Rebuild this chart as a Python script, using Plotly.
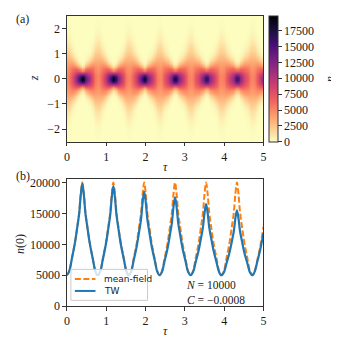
import numpy as np
import plotly.graph_objects as go

W, H = 339, 339

# ---- data ----
tau = [0.0,
       0.06, 0.12, 0.20, 0.26, 0.31, 0.35, 0.39, 0.43, 0.47, 0.52, 0.58, 0.66, 0.72,
       0.78,
       0.85, 0.91, 0.99, 1.05, 1.10, 1.14, 1.18, 1.22, 1.26, 1.31, 1.37, 1.45, 1.51,
       1.57,
       1.635, 1.695, 1.775, 1.835, 1.885, 1.925, 1.965, 2.005, 2.045, 2.095, 2.155, 2.235, 2.295,
       2.36,
       2.42, 2.48, 2.56, 2.62, 2.67, 2.71, 2.75, 2.79, 2.83, 2.88, 2.94, 3.02, 3.08,
       3.145,
       3.21, 3.27, 3.35, 3.41, 3.46, 3.50, 3.54, 3.58, 3.62, 3.67, 3.73, 3.81, 3.87,
       3.93,
       3.995, 4.055, 4.135, 4.195, 4.245, 4.285, 4.325, 4.365, 4.405, 4.455, 4.515, 4.595, 4.655,
       4.72,
       4.78, 4.84, 4.92, 5.00]

mean_field = [5000,
              5700, 7600, 10200, 12800, 15100, 18100, 20000, 18100, 15100, 12800, 10200, 7600, 5700,
              5000,
              5700, 7600, 10200, 12800, 15100, 18100, 20000, 18100, 15100, 12800, 10200, 7600, 5700,
              5000,
              5700, 7600, 10200, 12800, 15100, 18100, 20000, 18100, 15100, 12800, 10200, 7600, 5700,
              5000,
              5700, 7600, 10200, 12800, 15100, 18100, 20000, 18100, 15100, 12800, 10200, 7600, 5700,
              5000,
              5700, 7600, 10200, 12800, 15100, 18100, 20000, 18100, 15100, 12800, 10200, 7600, 5700,
              5000,
              5700, 7600, 10200, 12800, 15100, 18100, 20000, 18100, 15100, 12800, 10200, 7600, 5700,
              5000,
              5700, 7300, 9700, 12800]

tw = [5000,
      5700, 7550, 10150, 12700, 14950, 17900, 19800, 17900, 14950, 12700, 10150, 7550, 5700,
      5000,
      5670, 7500, 10000, 12500, 14700, 17600, 19400, 17600, 14700, 12500, 10000, 7500, 5670,
      5000,
      5630, 7340, 9680, 12020, 14090, 16790, 18500, 16790, 14090, 12020, 9680, 7340, 5630,
      5000,
      5590, 7180, 9370, 11550, 13480, 16000, 17600, 16000, 13480, 11550, 9370, 7180, 5590,
      5000,
      5540, 6990, 8990, 10980, 12740, 15040, 16500, 15040, 12740, 10980, 8990, 6990, 5540,
      5000,
      5490, 6820, 8640, 10460, 12070, 14170, 15500, 14170, 12070, 10460, 8640, 6820, 5490,
      5000,
      5650, 7100, 9200, 11800]

series_names = ["mean-field", "TW"]
N_atoms = 10000
C_value = "−0.0008"
x_ticks = [0, 1, 2, 3, 4, 5]
z_ticks = [-2, -1, 0, 1, 2]
n0_ticks = [0, 5000, 10000, 15000, 20000]
cb_ticks = [0, 2500, 5000, 7500, 10000, 12500, 15000, 17500]

# density field n(z, tau): Gaussian profile normalised to N atoms, centre value n(0) (TW)
z = np.linspace(-2.5, 2.5, 121)
n0 = np.array(tw, dtype=float)
dens = n0[None, :] * np.exp(-np.pi * (z[:, None] * n0[None, :] / N_atoms) ** 2)

SERIF = "Liberation Serif"
SANS = "DejaVu Sans"
AX = "#333333"
TXT = "#1a1a1a"
FS = 12
ORANGE = "#ff7f0e"
BLUE = "#1f77b4"
DASH = "6px,2.5px"

fig = go.Figure()
fig.add_trace(go.Heatmap(
    x=tau, y=z, z=dens, colorscale="magma", reversescale=True, zmin=0,
    zsmooth="best", xaxis="x", yaxis="y", showscale=True,
    colorbar=dict(
        x=263 / W, xanchor="left", y=1 - 4 / H, yanchor="top",
        len=130 / H, lenmode="fraction", thickness=9, thicknessmode="pixels",
        xpad=0, ypad=0, outlinewidth=1, outlinecolor=AX,
        tickvals=cb_ticks, ticktext=[str(v) for v in cb_ticks],
        ticks="outside", ticklen=3.5, tickwidth=1, tickcolor=AX,
        tickfont=dict(family=SERIF, size=FS, color=TXT)),
    hoverinfo="skip"))

fig.add_trace(go.Scatter(
    x=tau, y=mean_field, mode="lines", name=series_names[0],
    line=dict(color=ORANGE, width=2, dash=DASH, shape="spline", smoothing=1),
    xaxis="x2", yaxis="y2", showlegend=False))
fig.add_trace(go.Scatter(
    x=tau, y=tw, mode="lines", name=series_names[1],
    line=dict(color=BLUE, width=2.2, shape="spline", smoothing=1),
    xaxis="x2", yaxis="y2", showlegend=False))

axcommon = dict(showline=True, mirror=True, linecolor=AX, linewidth=1,
                ticks="outside", ticklen=3.5, tickwidth=1, tickcolor=AX,
                showgrid=False, zeroline=False,
                tickfont=dict(family=SERIF, size=FS, color=TXT))

xd = [57 / W, 257 / W]
fig.update_layout(
    width=W, height=H, autosize=False,
    margin=dict(l=0, r=0, t=0, b=0),
    paper_bgcolor="white", plot_bgcolor="white",
    showlegend=False,
    xaxis=dict(domain=xd, range=[0, 5], tickvals=x_ticks, anchor="y", **axcommon),
    yaxis=dict(domain=[1 - 134 / H, 1 - 4 / H], range=[-2.5, 2.5], tickvals=z_ticks,
               ticktext=[str(v).replace("-", "−") for v in z_ticks], anchor="x", **axcommon),
    xaxis2=dict(domain=xd, range=[0, 5], tickvals=x_ticks, anchor="y2", **axcommon),
    yaxis2=dict(domain=[1 - 304 / H, 1 - 173 / H], range=[0, 20500], tickvals=n0_ticks,
                ticktext=[str(v) for v in n0_ticks], anchor="x2", **axcommon),
)

def ann(text, x, y, size=FS, angle=0, xanchor="center", yanchor="middle", family=SERIF,
        align="center"):
    fig.add_annotation(text=text, x=x / W, y=1 - y / H, xref="paper", yref="paper",
                       showarrow=False, textangle=angle, xanchor=xanchor, yanchor=yanchor,
                       align=align, font=dict(family=family, size=size, color=TXT))

# legend (framed box with line samples and real text)
fig.add_shape(type="rect", xref="paper", yref="paper",
              x0=61 / W, x1=139 / W, y0=1 - 298 / H, y1=1 - 266 / H,
              line=dict(color="#cccccc", width=1), fillcolor="rgba(255,255,255,0.8)",
              layer="above")
for i, (nm, col, dsh) in enumerate([(series_names[0], ORANGE, DASH),
                                     (series_names[1], BLUE, "solid")]):
    yy = 276 + 12.3 * i
    fig.add_shape(type="line", xref="paper", yref="paper",
                  x0=65 / W, x1=86 / W, y0=1 - yy / H, y1=1 - yy / H,
                  line=dict(color=col, width=2, dash=dsh), layer="above")
    ann(nm, 93, yy, size=9, xanchor="left", family=SANS)

ann("(a)", 3, 7, xanchor="left")
ann("(b)", 3, 170, xanchor="left")
ann("<i>z</i>", 23, 69, angle=-90)
ann("<i>τ</i>", 157, 160)
ann("<i>n</i>", 324, 69, angle=-90)
ann("<i>n</i>(0)", 9, 240, angle=-90)
ann("<i>τ</i>", 157, 330)
ann(f"<i>N</i> = {N_atoms}<br><i>C</i> = {C_value}", 176, 289.5, size=11.5,
    xanchor="left", align="left")

fig.write_html("out.html")
